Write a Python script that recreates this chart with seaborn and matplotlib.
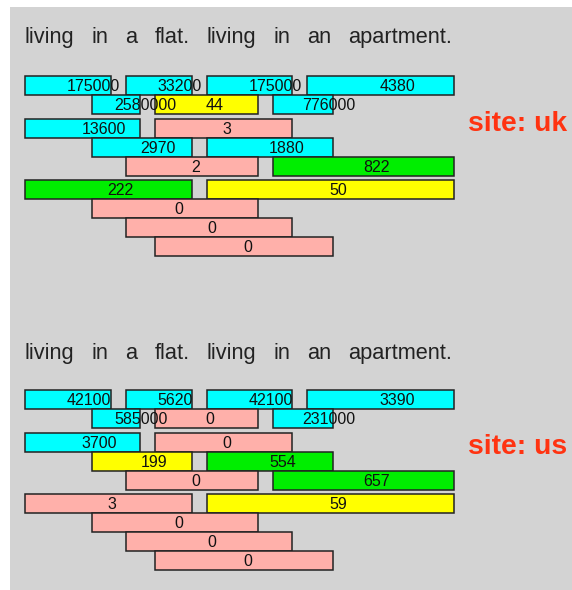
import matplotlib
matplotlib.use("Agg")
import matplotlib.pyplot as plt
import seaborn as sns
import pandas as pd

# ---------------- data ----------------
words = ["living", "in", "a", "flat.", "living", "in", "an", "apartment."]
sites = ["uk", "us"]

# every n-gram: first word index, number of words, display row
ngram_start = [0, 2, 4, 6, 1, 3, 5, 0, 3, 1, 4, 2, 5, 0, 4, 1, 2, 3]
ngram_size = [2, 2, 2, 2, 2, 2, 2, 3, 3, 3, 3, 3, 3, 4, 4, 4, 4, 4]
ngram_row = [0, 0, 0, 0, 1, 1, 1, 2, 2, 3, 3, 4, 4, 5, 5, 6, 7, 8]

uk_counts = ["175000", "33200", "175000", "4380", "2580000", "44", "776000",
             "13600", "3", "2970", "1880", "2", "822",
             "222", "50", "0", "0", "0"]
uk_colors = ["cyan", "cyan", "cyan", "cyan", "cyan", "yellow", "cyan",
             "cyan", "pink", "cyan", "cyan", "pink", "green",
             "green", "yellow", "pink", "pink", "pink"]

us_counts = ["42100", "5620", "42100", "3390", "585000", "0", "231000",
             "3700", "0", "199", "554", "0", "657",
             "3", "59", "0", "0", "0"]
us_colors = ["cyan", "cyan", "cyan", "cyan", "cyan", "pink", "cyan",
             "cyan", "pink", "yellow", "green", "pink", "green",
             "pink", "yellow", "pink", "pink", "pink"]

palette = {"cyan": "#00ffff", "yellow": "#ffff00", "pink": "#ffb0aa", "green": "#00ee00"}

# ---------------- layout ----------------
title_baseline = [43, 359]
first_row_top = [76, 390]
site_label_y = [124, 447]
row_h = 19
group_gap = 4.5
word_gap = 17

sns.set_theme(style="white")
plt.rcParams["font.family"] = ["Liberation Sans", "DejaVu Sans"]

fig = plt.figure(figsize=(5.72, 5.90), dpi=100)
ax = fig.add_axes([10 / 572, 0, 562 / 572, 583 / 590])
ax.set_xlim(10, 572)
ax.set_ylim(590, 7)
ax.set_facecolor("#d3d3d3")
ax.set_xticks([])
ax.set_yticks([])
for s in ax.spines.values():
    s.set_visible(False)

renderer = fig.canvas.get_renderer()
inv = ax.transData.inverted()

site_data = {
    "uk": pd.DataFrame({"start": ngram_start, "size": ngram_size, "row": ngram_row,
                        "count": uk_counts, "color": uk_colors}),
    "us": pd.DataFrame({"start": ngram_start, "size": ngram_size, "row": ngram_row,
                        "count": us_counts, "color": us_colors}),
}

for p, site in enumerate(sites):
    # sentence on top, measure each word so the bars line up with it
    x = 25
    starts, ends = [], []
    for w in words:
        t = ax.text(x, title_baseline[p], w, fontsize=15.7, color="#222222",
                    ha="left", va="baseline")
        bb = t.get_window_extent(renderer)
        (x0, _), (x1, _) = inv.transform([[bb.x0, bb.y0], [bb.x1, bb.y1]])
        starts.append(x0)
        ends.append(x1)
        x = x1 + word_gap

    df = site_data[site]
    for _, r in df.iterrows():
        left = starts[r["start"]]
        right = ends[r["start"] + r["size"] - 1] + 2
        top = first_row_top[p] + r["row"] * row_h + (r["size"] - 2) * group_gap
        ax.barh(top, right - left, left=left, height=row_h, align="edge",
                color=palette[r["color"]], edgecolor="#222222", linewidth=1.1, zorder=2)
        ax.text((left + right) / 2 - 1, top + row_h / 2 + 5.5, r["count"],
                ha="left", va="baseline", fontsize=11.5, color="#111111", zorder=3)

    ax.text(468, site_label_y[p], f"site: {site}", color="#ff3311", fontsize=20.3,
            fontweight="bold", ha="left", va="center")

plt.savefig("out.png", dpi=100, facecolor="white")
